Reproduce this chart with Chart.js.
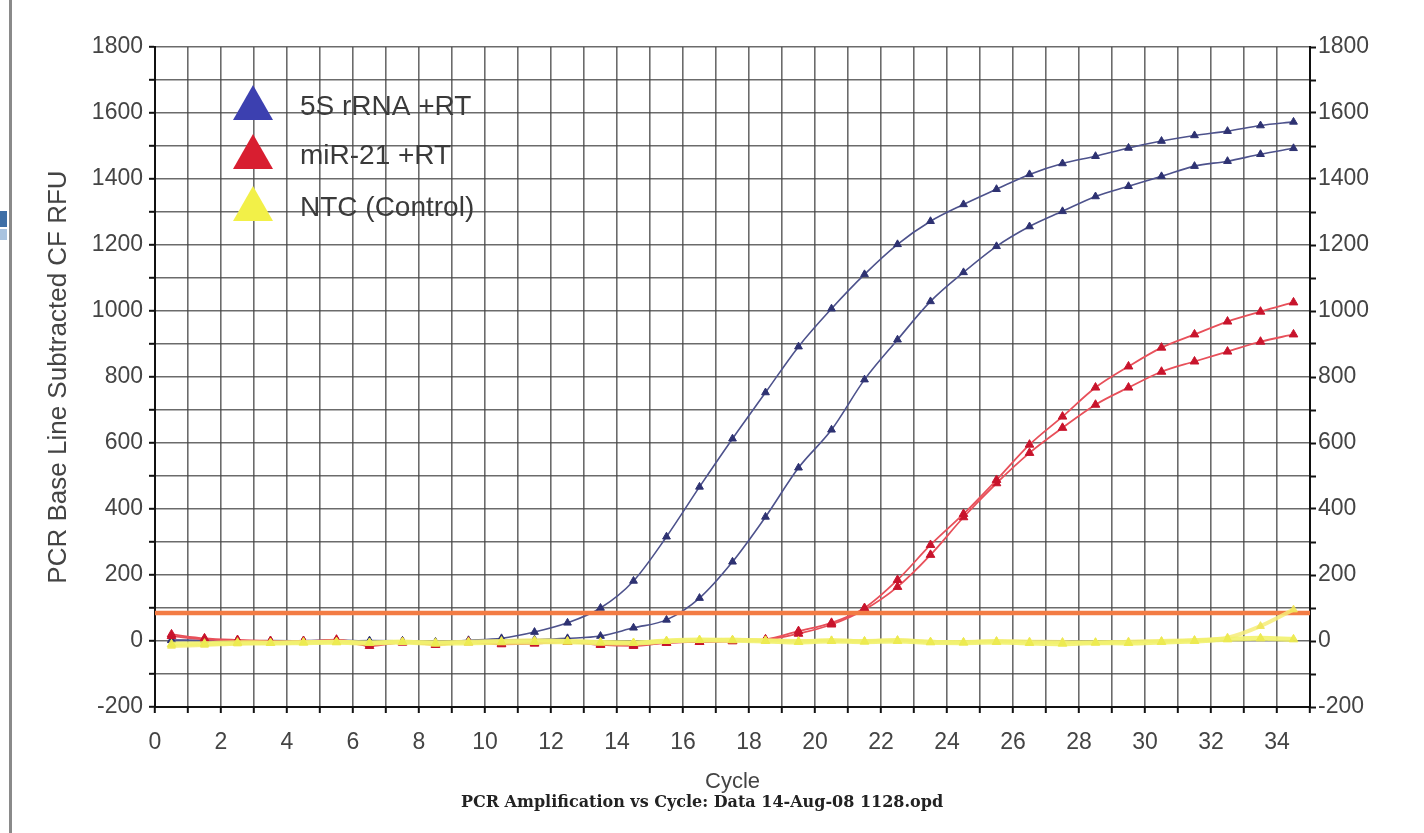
<!DOCTYPE html>
<html>
<head>
<meta charset="utf-8">
<script src="https://cdn.jsdelivr.net/npm/chart.js@4.4.1/dist/chart.umd.min.js"></script>
<style>
  html, body { margin: 0; padding: 0; background: #fff; }
  #wrap { position: relative; width: 1424px; height: 833px; overflow: hidden; background: #fff; }
  #frame { position: absolute; left: 9px; top: 0; width: 3px; height: 833px; background: #8a8a8a; }
  #blue1 { position: absolute; left: 0; top: 211px; width: 7px; height: 16px; background: #3f6fa6; }
  #blue2 { position: absolute; left: 0; top: 229px; width: 7px; height: 11px; background: #a9c3df; }
  #c { position: absolute; left: 0; top: 0; }
  #footer { position: absolute; left: 402px; width: 600px; top: 792px; text-align: center;
            font: bold 16px "DejaVu Serif", serif; color: #222; white-space: nowrap; }
</style>
</head>
<body>
<div id="wrap">
  <canvas id="c" width="1424" height="833"></canvas>
  <div id="frame"></div>
  <div id="blue1"></div>
  <div id="blue2"></div>
  <div id="footer"></div>
</div>
<script>
// ---- data ----
const cycles = [0.5,1.5,2.5,3.5,4.5,5.5,6.5,7.5,8.5,9.5,10.5,11.5,12.5,13.5,14.5,15.5,16.5,17.5,18.5,19.5,20.5,21.5,22.5,23.5,24.5,25.5,26.5,27.5,28.5,29.5,30.5,31.5,32.5,33.5,34.5];

const rRNA5S_a = [3,2,0,-2,1,3,-1,0,-3,2,8,27,55,100,182,316,467,613,753,892,1007,1111,1202,1272,1323,1369,1414,1447,1469,1494,1515,1532,1545,1562,1573];
const rRNA5S_b = [2,0,-1,1,0,-2,1,0,-4,0,2,4,8,15,40,64,130,240,376,525,640,792,913,1029,1117,1196,1256,1302,1347,1378,1408,1439,1454,1475,1493];
const miR21_a  = [20,8,3,0,-2,4,-10,-3,-12,-2,-8,-6,-2,-10,-12,-6,-2,0,5,30,55,100,185,291,385,488,595,680,768,832,889,929,968,998,1026];
const miR21_b  = [15,5,2,-3,0,2,-15,-5,-10,-4,-10,-8,-3,-12,-15,-5,-3,-1,3,22,50,95,164,261,375,478,570,646,716,768,816,847,877,907,929];
const ntc_a    = [-10,-8,-5,-6,-5,-4,-6,-3,-8,-5,-4,-3,-2,-5,-6,0,3,2,0,-3,0,-2,0,-4,-5,-3,-6,-8,-5,-6,-3,0,5,8,5];
const ntc_b    = [-15,-12,-8,-6,-4,-2,-5,-3,-4,-2,0,2,0,-3,-5,0,2,4,2,0,2,0,3,-2,-3,0,-2,-3,-5,-2,0,3,10,45,95];

const threshold = 85;
const xRange = [0, 35];
const yRange = [-200, 1800];

const seriesLabels = ['5S rRNA +RT', 'miR-21 +RT', 'NTC (Control)'];
const xTitle = 'Cycle';
const yTitle = 'PCR Base Line Subtracted CF RFU';
const footer = 'PCR Amplification vs Cycle: Data 14-Aug-08 1128.opd';

document.getElementById('footer').textContent = footer;

// ---- build ----
const pts = arr => arr.map((v, i) => ({ x: cycles[i], y: v }));

function curve(label, values, line, mark, width, radius, legend, order) {
  return {
    label, data: pts(values), borderColor: line, backgroundColor: mark,
    pointBackgroundColor: mark, pointBorderColor: mark, borderWidth: width,
    pointStyle: 'triangle', pointRadius: radius, pointBorderWidth: 1,
    cubicInterpolationMode: 'monotone', showInLegendBox: legend, order
  };
}

const datasets = [
  curve(seriesLabels[0], rRNA5S_a, '#4d528c', '#2e3272', 1.6, 4.5, true, 3),
  curve(seriesLabels[0], rRNA5S_b, '#4d528c', '#2e3272', 1.6, 4.5, false, 3),
  curve(seriesLabels[1], miR21_a, '#e8505a', '#c8142c', 1.8, 5, true, 2),
  curve(seriesLabels[1], miR21_b, '#e8505a', '#c8142c', 1.8, 5, false, 2),
  {
    label: 'Threshold', data: [{x: xRange[0], y: threshold}, {x: xRange[1], y: threshold}],
    borderColor: '#f37c44', borderWidth: 4.5, pointRadius: 0, showInLegendBox: false, order: 1
  },
  curve(seriesLabels[2], ntc_a, 'rgba(242,242,110,0.9)', 'rgba(236,234,80,0.95)', 5, 5, true, 0),
  curve(seriesLabels[2], ntc_b, 'rgba(246,236,120,0.85)', 'rgba(240,228,90,0.9)', 4, 4.5, false, 0)
];

const tickFont = { family: '"Liberation Sans", Arial, sans-serif', size: 23 };
const gridCol = 'rgba(70,70,70,0.8)';

const legendPlugin = {
  id: 'insideLegend',
  afterDatasetsDraw(chart) {
    const ctx = chart.ctx;
    const items = chart.data.datasets.filter(d => d.showInLegendBox);
    const colors = ['#3c40b0', '#d81e30', '#f2f048'];
    const cy = [103, 152, 204];
    ctx.save();
    items.forEach((d, i) => {
      const x = 253, y = cy[i];
      ctx.fillStyle = colors[i];
      ctx.beginPath();
      ctx.moveTo(x, y - 18);
      ctx.lineTo(x + 20, y + 17);
      ctx.lineTo(x - 20, y + 17);
      ctx.closePath();
      ctx.fill();
      ctx.fillStyle = '#3a3a3a';
      ctx.font = '28px "Liberation Sans", Arial, sans-serif';
      ctx.textBaseline = 'middle';
      ctx.textAlign = 'left';
      ctx.fillText(d.label, 300, y + 4);
    });
    ctx.restore();
  }
};

new Chart(document.getElementById('c'), {
  type: 'line',
  data: { datasets },
  plugins: [legendPlugin],
  options: {
    responsive: false,
    animation: false,
    layout: { padding: { left: 40, right: 0, top: 47, bottom: 40 } },
    plugins: {
      legend: { display: false },
      tooltip: { enabled: false }
    },
    scales: {
      x: {
        type: 'linear', min: xRange[0], max: xRange[1],
        afterFit: s => { s.height = 86; },
        ticks: {
          stepSize: 1, autoSkip: false, maxRotation: 0, padding: 16,
          color: '#444', font: tickFont,
          callback: v => (v % 2 === 0 && v < xRange[1]) ? String(v) : ''
        },
        grid: { color: gridCol, lineWidth: 1.6, tickLength: 6, tickColor: '#111', tickWidth: 2 },
        border: { color: '#111', width: 2 },
        title: {
          display: true, text: xTitle, color: '#444',
          font: { family: '"Liberation Sans", Arial, sans-serif', size: 22 },
          padding: { top: 0, bottom: -2 }
        }
      },
      y: {
        type: 'linear', position: 'left', min: yRange[0], max: yRange[1],
        afterFit: s => { s.width = 115; },
        ticks: {
          stepSize: 100, autoSkip: false, padding: 6, color: '#444', font: tickFont,
          callback: v => (v % 200 === 0) ? String(v) : ''
        },
        grid: { color: gridCol, lineWidth: 1.6, tickLength: 6, tickColor: '#111', tickWidth: 2 },
        border: { color: '#111', width: 2 },
        title: {
          display: true, text: yTitle, color: '#444',
          font: { family: '"Liberation Sans", Arial, sans-serif', size: 26 },
          padding: { top: 3, bottom: 0 }
        }
      },
      y2: {
        type: 'linear', position: 'right', min: yRange[0], max: yRange[1],
        afterFit: s => { s.width = 114; },
        ticks: {
          stepSize: 100, autoSkip: false, padding: 2, color: '#444', font: tickFont,
          callback: v => (v % 200 === 0) ? String(v) : ''
        },
        grid: { drawOnChartArea: false, tickLength: 6, tickColor: '#111', tickWidth: 2 },
        border: { color: '#111', width: 2 }
      }
    }
  }
});
</script>
</body>
</html>
